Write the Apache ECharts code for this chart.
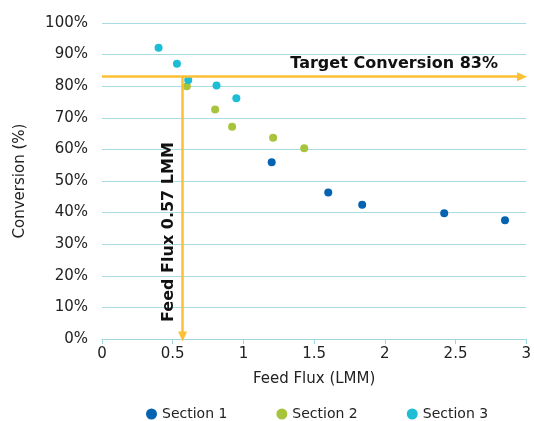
<!DOCTYPE html>
<html><head><meta charset="utf-8">
<script src="https://cdn.jsdelivr.net/npm/echarts@6/dist/echarts.min.js"></script>
<style>html,body{margin:0;padding:0;background:#fff}#c{width:534px;height:421px}</style>
</head><body><div id="c"></div>
<script>
const seriesNames = ['Section 1', 'Section 2', 'Section 3'];
const section1 = [[1.20, 55.9], [1.60, 46.4], [1.84, 42.5], [2.42, 39.8], [2.85, 37.6]];
const section2 = [[0.60, 80.0], [0.80, 72.6], [0.92, 67.2], [1.21, 63.7], [1.43, 60.4]];
const section3 = [[0.40, 92.2], [0.53, 87.1], [0.61, 82.0], [0.81, 80.2], [0.95, 76.2]];
const colors = ['#0563b2', '#a8c43c', '#1dbdd6'];
const targetConversion = 83;
const targetFlux = 0.57;
const xMax = 3;

const font = 'DejaVu Sans, Verdana, sans-serif';
const chart = echarts.init(document.getElementById('c'), null, {renderer: 'canvas'});
const lineColor = '#fdbf33';
const data = [section1, section2, section3];

chart.setOption({
  animation: false,
  textStyle: {fontFamily: font},
  grid: {left: 102, right: 6, top: 23, bottom: 82},
  legend: {
    top: 402, left: 141, itemGap: 49, icon: 'circle', itemWidth: 11, itemHeight: 11,
    textStyle: {fontSize: 14, color: '#222', fontFamily: font},
    data: seriesNames
  },
  xAxis: {
    type: 'value', min: 0, max: xMax, interval: 0.5,
    name: 'Feed Flux (LMM)', nameLocation: 'middle', nameGap: 33,
    nameTextStyle: {fontSize: 15, color: '#222', fontFamily: font},
    axisLine: {show: true, lineStyle: {color: '#9fd6df'}},
    axisTick: {show: true, length: 5, lineStyle: {color: '#9fd6df'}},
    axisLabel: {fontSize: 15, color: '#222', margin: 8, fontFamily: font},
    splitLine: {show: false}
  },
  yAxis: {
    type: 'value', min: 0, max: 100, interval: 10,
    name: 'Conversion (%)', nameLocation: 'middle', nameGap: 74,
    nameTextStyle: {fontSize: 15, color: '#222', fontFamily: font},
    axisLine: {show: false}, axisTick: {show: false},
    axisLabel: {formatter: '{value}%', fontSize: 15, color: '#222', margin: 14, fontFamily: font},
    splitLine: {show: true, lineStyle: {color: '#a9dbe3', width: 1}}
  },
  series: seriesNames.map((n, i) => ({
    name: n, type: 'scatter', data: data[i], symbolSize: 8,
    itemStyle: {color: colors[i], opacity: 1}, z: 3,
    markLine: i === 0 ? {
      silent: true, symbol: ['none', 'triangle'], symbolSize: [9, 10],
      label: {show: false},
      lineStyle: {color: lineColor, width: 2.5, type: 'solid', opacity: 1},
      emphasis: {disabled: true},
      data: [
        [{coord: [0, targetConversion]}, {coord: [2.97, targetConversion]}],
        [{coord: [targetFlux, targetConversion]}, {coord: [targetFlux, 0.8]}]
      ]
    } : undefined
  }))
});

function place() {
  const a = chart.convertToPixel({gridIndex: 0}, [2.80, targetConversion]);
  const b = chart.convertToPixel({gridIndex: 0}, [targetFlux, 5.4]);
  chart.setOption({
    graphic: [
      {type: 'text', x: a[0], y: a[1] - 5, z: 10,
       style: {text: 'Target Conversion 83%', font: 'bold 16px ' + font, fill: '#111', textAlign: 'right', textVerticalAlign: 'bottom'}},
      {type: 'text', x: b[0] - 6, y: b[1], rotation: Math.PI / 2, z: 10,
       style: {text: 'Feed Flux 0.57 LMM', font: 'bold 16px ' + font, fill: '#111', textAlign: 'left', textVerticalAlign: 'bottom'}}
    ]
  });
}
place();
</script></body></html>
